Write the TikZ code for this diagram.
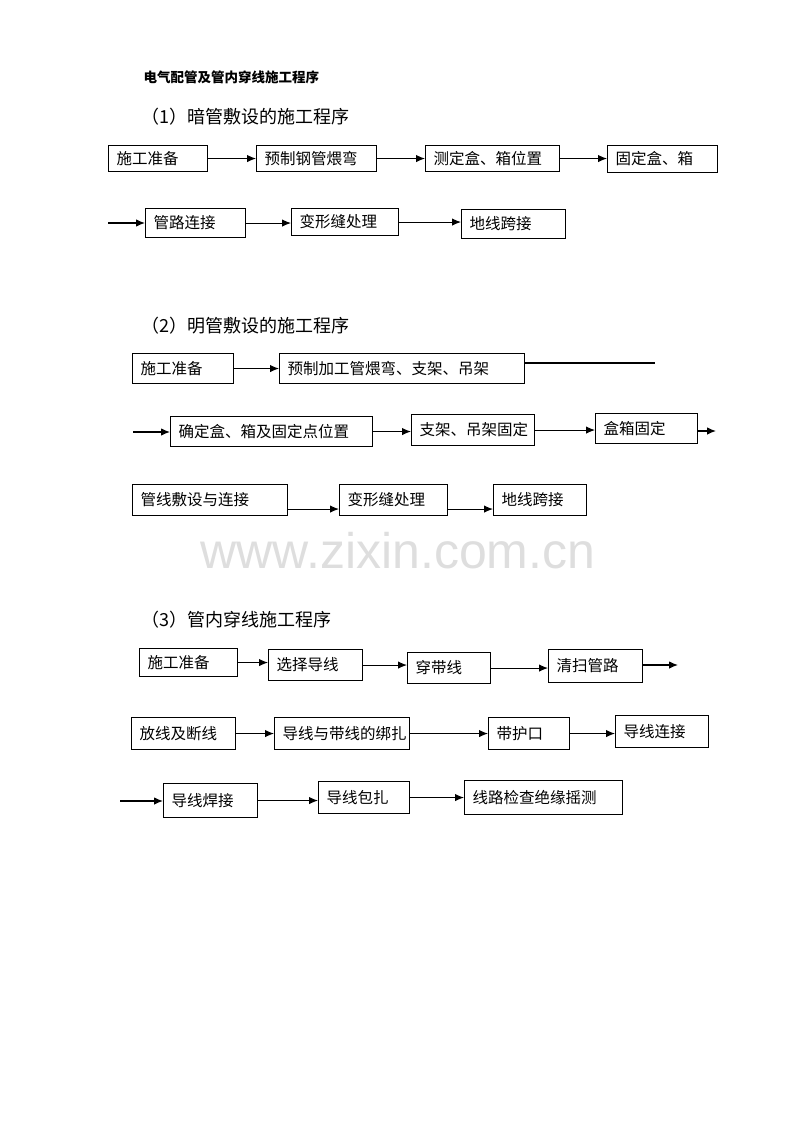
\documentclass[tikz,border=0pt]{standalone}
\usepackage{fontspec}
\setmainfont{Liberation Serif}
\newfontfamily\cjk{Noto Sans CJK SC}
\newfontfamily\wmfont{Liberation Sans}
\usetikzlibrary{arrows.meta}

\begin{document}
\begin{tikzpicture}[x=1pt,y=-1pt,line width=1.1pt]
                \tikzstyle{box}=[rectangle,draw=black,anchor=north west,inner xsep=8pt,inner ysep=0pt,align=left,font=\cjk\fontsize{15.5}{17}\selectfont]
                \tikzstyle{head}=[anchor=west,inner sep=0pt,font=\cjk\fontsize{18}{20}\selectfont]
                \tikzstyle{arr}=[-{Latex[length=9pt,width=7.5pt]}]
                \useasboundingbox (0,0) rectangle (800,1132);

                % titles
                \node[anchor=west,inner sep=0pt,font=\cjk\bfseries\fontsize{13.5}{15}\selectfont] (title) at (143,77) {电气配管及管内穿线施工程序};
                \node[head] (H-1) at (141,117) {（1）暗管敷设的施工程序};
                \node[head] (H-2) at (141,326) {（2）明管敷设的施工程序};
                \node[head] (H-3) at (141,620) {（3）管内穿线施工程序};

                % watermark
                \node[text=black!13,font=\wmfont\fontsize{50}{52}\selectfont] (wm) at (398,551) {www.zixin.com.cn};

                % boxes: name/x/y/width/height/text
                \foreach \nm/\x/\y/\w/\h/\txt [evaluate=\w as \tw using \w-16] in
                        {A-1/108/145/99/26/施工准备, A-2/256/145/120/26/预制钢管煨弯,
                         A-3/425/145/134/26/测定盒、箱位置, A-4/607/145/110/27/固定盒、箱,
                         A-5/145/208/100/29/管路连接, A-6/291/208/107/27/变形缝处理,
                         A-7/461/209/104/29/地线跨接,
                         B-1/132/353/101/30/施工准备, B-2/279/353/245/30/预制加工管煨弯、支架、吊架,
                         B-3/170/416/202/30/确定盒、箱及固定点位置, B-4/411/414/123/31/支架、吊架固定,
                         B-5/595/413/102/30/盒箱固定,
                         B-6/132/484/155/31/管线敷设与连接, B-7/339/484/108/31/变形缝处理,
                         B-8/493/484/93/31/地线跨接,
                         C-1/139/648/98/28/施工准备, C-2/268/649/94/31/选择导线,
                         C-3/407/652/83/31/穿带线, C-4/548/649/94/33/清扫管路,
                         C-5/131/717/104/32/放线及断线, C-6/274/717/135/32/导线与带线的绑扎,
                         C-7/488/717/81/32/带护口, C-8/615/715/93/32/导线连接,
                         C-9/163/783/94/34/导线焊接, C-10/318/781/91/32/导线包扎,
                         C-11/464/780/158/34/线路检查绝缘摇测}
                        \node[box,text width=\tw pt,minimum height=\h pt] (\nm) at (\x,\y) {\txt};

                % free ends
                \coordinate (A-in) at (108,223);
                \coordinate (B-out) at (655,363);
                \coordinate (B-in) at (133,432);
                \coordinate (B-end) at (716,431);
                \coordinate (C-end) at (678,665);
                \coordinate (C-in) at (120,801);

                \foreach \from/\to in {A-1/A-2, A-2/A-3, A-3/A-4, A-5/A-6, A-6/A-7,
                                       B-1/B-2, B-3/B-4, B-4/B-5,
                                       C-1/C-2, C-2/C-3, C-3/C-4, C-5/C-6, C-6/C-7, C-7/C-8,
                                       C-9/C-10, C-10/C-11}
                        \draw[arr] (\from.east) -- (\from.east -| \to.west);
                \foreach \from/\to in {B-6/B-7, B-7/B-8}
                        \draw[arr] ([yshift=-9pt]\from.east) -- ([yshift=-9pt]\from.east -| \to.west);

                \draw[arr] (A-in) -- (A-in -| A-5.west);
                \draw (B-2.east |- B-out) -- (B-out);
                \draw[arr] (B-in) -- (B-in -| B-3.west);
                \draw[arr] (B-5.east |- B-end) -- (B-end);
                \draw[arr] (C-4.east |- C-end) -- (C-end);
                \draw[arr] (C-in) -- (C-in -| C-9.west);
                % \draw[dashed] (B-2.south) -- (B-3.north);
\end{tikzpicture}
\end{document}
